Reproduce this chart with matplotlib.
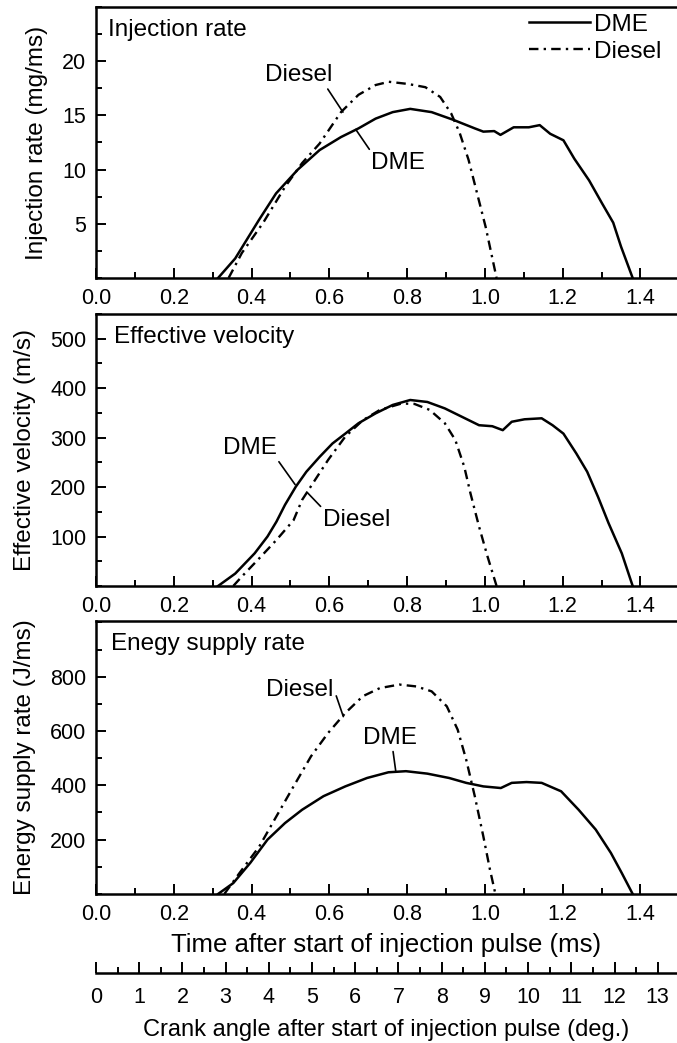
import numpy as np
import matplotlib
matplotlib.use("Agg")
import matplotlib.pyplot as plt
from matplotlib.ticker import MultipleLocator, FixedLocator

plt.rcParams['font.family'] = ['Liberation Sans', 'DejaVu Sans']

# ---- data (time in ms) ----
inj_dme_t = [0.314, 0.358, 0.419, 0.463, 0.519, 0.575, 0.630, 0.675, 0.719, 0.763, 0.808,
             0.863, 0.918, 0.974, 0.996, 1.024, 1.040, 1.074, 1.113, 1.141, 1.168, 1.202,
             1.230, 1.268, 1.301, 1.330, 1.350, 1.380]
inj_dme = [0.0, 1.8, 5.35, 7.8, 10.0, 11.8, 13.0, 13.8, 14.7, 15.3, 15.6,
           15.3, 14.6, 13.8, 13.5, 13.55, 13.2, 13.9, 13.9, 14.1, 13.3, 12.7,
           11.0, 9.0, 6.9, 5.1, 2.9, 0.0]
inj_dsl_t = [0.341, 0.375, 0.430, 0.486, 0.530, 0.575, 0.630, 0.675, 0.719, 0.753, 0.802,
             0.847, 0.885, 0.913, 0.935, 0.958, 0.980, 1.002, 1.030]
inj_dsl = [0.0, 2.3, 5.1, 8.4, 10.6, 12.4, 15.3, 16.9, 17.8, 18.1, 17.9,
           17.6, 16.7, 15.2, 13.4, 10.9, 7.8, 4.7, 0.0]

vel_dme_t = [0.314, 0.358, 0.408, 0.441, 0.464, 0.486, 0.514, 0.541, 0.575, 0.608, 0.641,
             0.675, 0.719, 0.763, 0.808, 0.852, 0.897, 0.941, 0.985, 1.019, 1.046, 1.069,
             1.102, 1.146, 1.174, 1.202, 1.235, 1.263, 1.291, 1.318, 1.352, 1.380]
vel_dme = [0, 25, 66, 100, 130, 164, 201, 231, 261, 288, 308,
           329, 349, 366, 376, 372, 359, 342, 325, 323, 315, 332,
           337, 339, 325, 308, 268, 231, 180, 127, 66, 0]
vel_dsl_t = [0.353, 0.375, 0.420, 0.464, 0.508, 0.530, 0.563, 0.597, 0.641, 0.686, 0.730,
             0.786, 0.819, 0.858, 0.897, 0.924, 0.947, 0.963, 0.985, 1.007, 1.030]
vel_dsl = [0, 19, 56, 93, 133, 174, 214, 255, 302, 335, 356,
           369, 368, 356, 329, 295, 241, 187, 120, 59, 0]

en_dme_t = [0.314, 0.353, 0.397, 0.441, 0.486, 0.530, 0.585, 0.641, 0.697, 0.752, 0.797,
            0.852, 0.908, 0.952, 0.996, 1.041, 1.069, 1.107, 1.146, 1.196, 1.241, 1.285,
            1.324, 1.352, 1.380]
en_dme = [0, 40, 115, 200, 261, 310, 360, 396, 427, 448, 452,
          443, 427, 409, 396, 390, 409, 412, 409, 378, 310, 237,
          151, 77, 0]
en_dsl_t = [0.330, 0.369, 0.420, 0.464, 0.508, 0.553, 0.597, 0.641, 0.686, 0.730, 0.780,
            0.824, 0.863, 0.902, 0.930, 0.952, 0.974, 0.996, 1.013, 1.027]
en_dsl = [0, 77, 175, 286, 396, 507, 593, 666, 728, 758, 771,
          764, 746, 691, 605, 494, 360, 212, 90, 0]

x_ticks = [0.0, 0.2, 0.4, 0.6, 0.8, 1.0, 1.2, 1.4]
deg_per_ms = 9.0

panels = [
    dict(title="Injection rate", ylabel="Injection rate (mg/ms)",
         dme=(inj_dme_t, inj_dme), dsl=(inj_dsl_t, inj_dsl),
         ylim=25, yticks=[5, 10, 15, 20], yminor=2.5),
    dict(title="Effective velocity", ylabel="Effective velocity (m/s)",
         dme=(vel_dme_t, vel_dme), dsl=(vel_dsl_t, vel_dsl),
         ylim=550, yticks=[100, 200, 300, 400, 500], yminor=50),
    dict(title="Enegy supply rate", ylabel="Energy supply rate (J/ms)",
         dme=(en_dme_t, en_dme), dsl=(en_dsl_t, en_dsl),
         ylim=1005, yticks=[200, 400, 600, 800], yminor=100),
]

fig = plt.figure(figsize=(6.77, 10.43), dpi=100)
rects = [[0.1418, 0.7335, 0.8582, 0.2598],
         [0.1418, 0.4382, 0.8582, 0.2608],
         [0.1418, 0.1429, 0.8582, 0.2617]]
dashdot = (0, (4, 2.2, 1, 2.2))
axes = []
for p, r in zip(panels, rects):
    ax = fig.add_axes(r)
    ax.plot(*p['dme'], color='black', lw=1.8, label='DME')
    ax.plot(*p['dsl'], color='black', lw=1.7, linestyle=dashdot, label='Diesel')
    ax.set_xlim(0, 1.494)
    ax.set_ylim(0, p['ylim'])
    ax.set_xticks(x_ticks)
    ax.set_xticklabels(["%.1f" % v for v in x_ticks])
    ax.xaxis.set_minor_locator(MultipleLocator(0.1))
    ax.set_yticks(p['yticks'])
    ax.yaxis.set_minor_locator(MultipleLocator(p['yminor']))
    ax.tick_params(which='both', direction='in', width=1.4, top=False, right=False)
    ax.tick_params(which='major', length=7, labelsize=15.5, pad=7)
    ax.tick_params(which='minor', length=4)
    for s in ['left', 'top', 'bottom']:
        ax.spines[s].set_linewidth(1.8)
    ax.spines['right'].set_visible(False)
    ax.set_ylabel(p['ylabel'], fontsize=17.5, labelpad=10)
    axes.append(ax)

axes[0].text(0.021, 0.893, panels[0]['title'], transform=axes[0].transAxes, fontsize=17.5)
axes[1].text(0.031, 0.893, panels[1]['title'], transform=axes[1].transAxes, fontsize=17.5)
axes[2].text(0.026, 0.893, panels[2]['title'], transform=axes[2].transAxes, fontsize=17.5)

axes[0].legend(loc='upper left', bbox_to_anchor=(0.745, 0.975), frameon=False,
               fontsize=17.5, handlelength=2.5, handletextpad=0.2, labelspacing=0.2,
               borderpad=0, borderaxespad=0)

# leader-line labels
lead = dict(arrowstyle='-', color='black', lw=1.2, shrinkA=0, shrinkB=0)
def label(ax, txt, xytext, xy, relpos):
    ax.annotate(txt, xy=xy, xytext=xytext, ha='center', va='center', fontsize=17.5,
                arrowprops=dict(relpos=relpos, **lead))

label(axes[0], "Diesel", (0.522, 18.7), (0.635, 15.3), (0.9, 0.0))
label(axes[0], "DME", (0.777, 10.6), (0.668, 13.7), (0.0, 1.0))
label(axes[1], "DME", (0.396, 279), (0.512, 205), (1.0, 0.0))
label(axes[1], "Diesel", (0.671, 133), (0.542, 190), (0.0, 1.0))
label(axes[2], "Diesel", (0.524, 751), (0.636, 653), (1.0, 0.6))
label(axes[2], "DME", (0.756, 575), (0.771, 450), (0.55, 0.0))

axes[2].set_xlabel("Time after start of injection pulse (ms)", fontsize=18.5, labelpad=6)

sec = axes[2].secondary_xaxis(-0.289, functions=(lambda t: t * deg_per_ms, lambda d: d / deg_per_ms))
sec.xaxis.set_major_locator(FixedLocator(list(range(0, 14))))
sec.xaxis.set_minor_locator(MultipleLocator(0.5))
sec.tick_params(which='both', direction='in', width=1.4)
sec.tick_params(which='major', length=8, labelsize=15.5, pad=10)
sec.tick_params(which='minor', length=4)
sec.spines['bottom'].set_linewidth(1.8)
sec.set_xlabel("Crank angle after start of injection pulse (deg.)", fontsize=17, labelpad=8)

fig.savefig("out.png", dpi=100)
